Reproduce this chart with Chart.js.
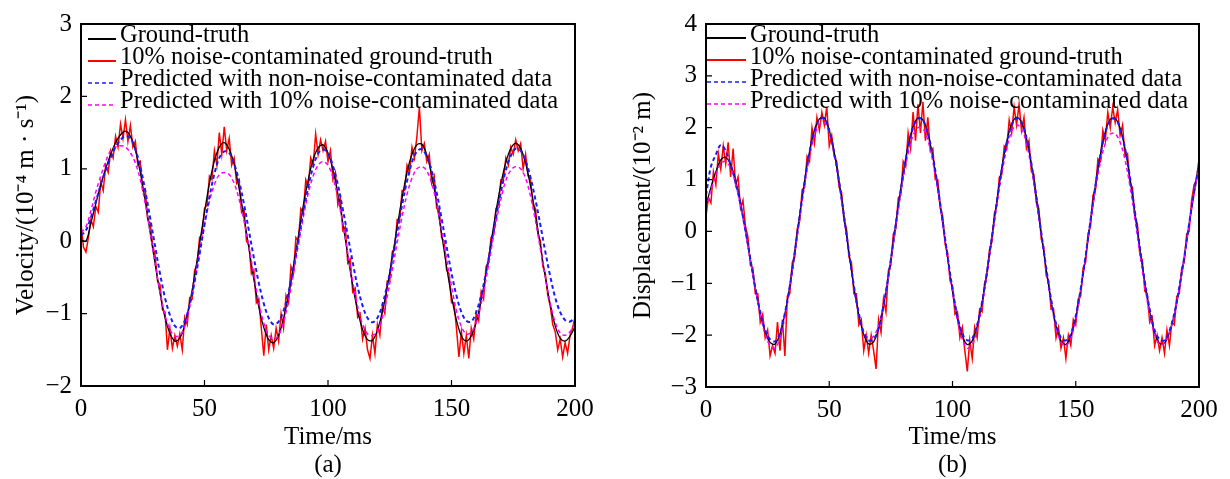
<!DOCTYPE html>
<html>
<head>
<meta charset="utf-8">
<script src="https://cdn.jsdelivr.net/npm/chart.js@4.4.1/dist/chart.umd.min.js"></script>
<style>
  html, body { margin: 0; padding: 0; background: #fff; overflow: hidden; }
  .panel { position: absolute; top: 0; width: 615px; height: 479px; }
</style>
</head>
<body>
<div class="panel" style="left:0"><canvas id="canvas_a" width="615" height="479"></canvas></div>
<div class="panel" style="left:615px"><canvas id="canvas_b" width="615" height="479"></canvas></div>
<script>
// sample times (ms)
const time_2ms = [0,2,4,6,8,10,12,14,16,18,20,22,24,26,28,30,32,34,36,38,40,42,44,46,48,50,52,54,56,58,60,62,64,66,68,70,72,74,76,78,80,82,84,86,88,90,92,94,96,98,100,102,104,106,108,110,112,114,116,118,120,122,124,126,128,130,132,134,136,138,140,142,144,146,148,150,152,154,156,158,160,162,164,166,168,170,172,174,176,178,180,182,184,186,188,190,192,194,196,198,200]
const time_1ms = [0,1,2,3,4,5,6,7,8,9,10,11,12,13,14,15,16,17,18,19,20,21,22,23,24,25,26,27,28,29,30,31,32,33,34,35,36,37,38,39,40,41,42,43,44,45,46,47,48,49,50,51,52,53,54,55,56,57,58,59,60,61,62,63,64,65,66,67,68,69,70,71,72,73,74,75,76,77,78,79,80,81,82,83,84,85,86,87,88,89,90,91,92,93,94,95,96,97,98,99,100,101,102,103,104,105,106,107,108,109,110,111,112,113,114,115,116,117,118,119,120,121,122,123,124,125,126,127,128,129,130,131,132,133,134,135,136,137,138,139,140,141,142,143,144,145,146,147,148,149,150,151,152,153,154,155,156,157,158,159,160,161,162,163,164,165,166,167,168,169,170,171,172,173,174,175,176,177,178,179,180,181,182,183,184,185,186,187,188,189,190,191,192,193,194,195,196,197,198,199,200]

const x_ticks = [0, 50, 100, 150, 200]
const y_ticks_a = [-2, -1, 0, 1, 2, 3]
const y_ticks_b = [-3, -2, -1, 0, 1, 2, 3, 4]

const series_names = [
    'Ground-truth',
    '10% noise-contaminated ground-truth',
    'Predicted with non-noise-contaminated data',
    'Predicted with 10% noise-contaminated data'
]

// (a) velocity, 10^-4 m/s
const truth_a = [0.02,0.0,0.25,0.52,0.78,1.0,1.2,1.36,1.47,1.52,1.45,1.26,0.95,0.56,0.12,-0.31,-0.72,-1.05,-1.27,-1.38,-1.34,-1.16,-0.86,-0.48,-0.04,0.40,0.80,1.11,1.30,1.36,1.27,1.06,0.73,0.33,-0.10,-0.53,-0.91,-1.19,-1.36,-1.40,-1.30,-1.07,-0.75,-0.35,0.07,0.49,0.85,1.13,1.29,1.33,1.22,0.99,0.65,0.25,-0.19,-0.61,-0.96,-1.22,-1.36,-1.37,-1.23,-0.98,-0.63,-0.23,0.20,0.60,0.95,1.20,1.33,1.34,1.19,0.91,0.53,0.10,-0.35,-0.76,-1.09,-1.31,-1.38,-1.31,-1.12,-0.82,-0.44,-0.02,0.41,0.79,1.09,1.28,1.35,1.28,1.08,0.76,0.36,-0.07,-0.50,-0.88,-1.17,-1.34,-1.38,-1.31,-1.18]
const noisy_a = [
    0.25,-0.08,-0.15,0.05,0.3,0.2,0.48,0.4,0.82,0.7,
    1.05,0.95,1.25,1.15,1.45,1.3,1.62,1.42,1.68,1.38,
    1.6,1.3,1.38,1.05,1.1,0.7,0.72,0.3,0.25,-0.05,
    -0.2,-0.55,-0.6,-0.95,-0.98,-1.5,-1.2,-1.48,-1.3,-1.45,
    -1.28,-1.5,-1.05,-1.15,-0.78,-0.8,-0.4,-0.32,0.05,0.1,
    0.45,0.5,0.9,0.85,1.25,1.05,1.5,1.2,1.58,1.25,
    1.42,1.05,1.15,0.8,0.85,0.4,0.45,0.0,-0.05,-0.45,
    -0.4,-0.85,-0.8,-1.2,-1.58,-1.15,-1.5,-1.3,-1.48,-1.2,
    -1.38,-1.0,-1.2,-0.75,-0.85,-0.35,-0.45,0.05,0.0,0.45,
    0.4,0.85,0.75,1.15,1.05,1.48,1.2,1.4,1.25,1.38,
    1.1,1.25,0.85,0.95,0.5,0.6,0.15,0.2,-0.3,-0.25,
    -0.7,-0.65,-1.05,-1.0,-1.35,-1.2,-1.5,-1.62,-1.3,-1.55,
    -1.15,-1.3,-0.9,-1.0,-0.55,-0.55,-0.15,-0.1,0.3,0.3,
    0.7,0.7,1.05,0.95,1.3,1.15,1.45,1.85,1.25,1.35,
    1.1,1.2,0.8,0.9,0.45,0.45,0.05,0.0,-0.4,-0.45,
    -0.85,-0.85,-1.2,-1.6,-1.25,-1.55,-1.3,-1.62,-1.2,-1.35,
    -1.0,-1.1,-0.7,-0.8,-0.35,-0.3,0.05,0.1,0.45,0.5,
    0.85,0.85,1.15,1.05,1.3,1.2,1.4,1.25,1.35,1.0,
    1.2,0.9,0.85,0.5,0.45,0.1,0.0,-0.35,-0.45,-0.75,
    -0.9,-1.15,-1.25,-1.5,-1.35,-1.6,-1.4,-1.55,-1.3,-1.2,
    -1.05]
const pred_clean_a = [0.08,0.15,0.33,0.55,0.78,0.98,1.15,1.30,1.40,1.45,1.42,1.27,1.03,0.70,0.32,-0.07,-0.45,-0.78,-1.02,-1.17,-1.20,-1.10,-0.88,-0.56,-0.18,0.23,0.61,0.93,1.15,1.24,1.22,1.07,0.83,0.51,0.14,-0.23,-0.58,-0.86,-1.06,-1.15,-1.11,-0.96,-0.71,-0.37,0.01,0.40,0.75,1.03,1.21,1.27,1.21,1.04,0.78,0.44,0.08,-0.29,-0.63,-0.89,-1.06,-1.12,-1.06,-0.88,-0.60,-0.26,0.12,0.50,0.83,1.09,1.24,1.27,1.17,0.97,0.67,0.31,-0.07,-0.44,-0.75,-0.98,-1.10,-1.11,-0.98,-0.75,-0.43,-0.06,0.32,0.68,0.98,1.18,1.28,1.25,1.11,0.88,0.57,0.22,-0.15,-0.49,-0.78,-0.98,-1.09,-1.11,-1.05]
const pred_noisy_a = [0.12,0.20,0.42,0.68,0.90,1.10,1.25,1.30,1.32,1.30,1.22,1.08,0.85,0.52,0.12,-0.30,-0.70,-1.02,-1.22,-1.31,-1.30,-1.18,-0.90,-0.55,-0.15,0.23,0.55,0.78,0.92,0.95,0.92,0.80,0.58,0.28,-0.08,-0.47,-0.85,-1.13,-1.30,-1.35,-1.30,-1.12,-0.82,-0.45,-0.05,0.33,0.66,0.90,1.05,1.10,1.05,0.88,0.60,0.24,-0.16,-0.56,-0.90,-1.15,-1.28,-1.30,-1.24,-1.05,-0.76,-0.40,-0.02,0.34,0.65,0.87,1.00,1.03,0.97,0.80,0.52,0.16,-0.24,-0.62,-0.96,-1.18,-1.28,-1.26,-1.12,-0.86,-0.52,-0.13,0.25,0.58,0.84,0.98,1.03,1.00,0.87,0.62,0.28,-0.11,-0.50,-0.86,-1.12,-1.27,-1.30,-1.25,-1.12]

// (b) displacement, 10^-2 m
const truth_b = [0.50,0.85,1.15,1.38,1.43,1.29,0.99,0.55,0.02,-0.55,-1.10,-1.58,-1.94,-2.14,-2.17,-1.98,-1.59,-1.05,-0.39,0.31,0.97,1.54,1.95,2.17,2.19,1.95,1.53,0.96,0.29,-0.41,-1.07,-1.61,-1.99,-2.17,-2.13,-1.88,-1.44,-0.86,-0.20,0.49,1.12,1.65,2.02,2.19,2.15,1.89,1.44,0.86,0.19,-0.50,-1.14,-1.67,-2.02,-2.18,-2.11,-1.83,-1.37,-0.77,-0.10,0.59,1.22,1.73,2.07,2.20,2.11,1.80,1.30,0.67,-0.03,-0.72,-1.34,-1.82,-2.11,-2.18,-2.02,-1.66,-1.12,-0.48,0.22,0.90,1.48,1.92,2.16,2.18,1.99,1.59,1.03,0.37,-0.32,-0.98,-1.54,-1.95,-2.16,-2.15,-1.95,-1.60,-1.10,-0.50,0.15,0.75,1.30]
const noisy_b = [
    0.3,0.65,0.55,1.15,0.9,1.5,1.2,1.65,1.3,1.72,
    1.05,1.6,0.9,1.05,0.45,0.6,0.1,-0.1,-0.65,-0.7,
    -1.2,-1.2,-1.75,-1.6,-2.05,-1.9,-2.4,-2.2,-2.35,-1.75,
    -2.3,-1.7,-2.4,-1.25,-1.2,-0.6,-0.5,0.05,0.2,0.8,
    0.85,1.45,1.35,2.0,1.7,2.2,1.95,2.3,2.05,2.4,
    1.65,1.85,1.45,1.35,0.85,0.75,0.2,0.05,-0.5,-0.6,
    -1.2,-1.2,-1.8,-1.7,-2.3,-2.0,-2.35,-2.0,-2.3,-2.65,
    -1.7,-1.95,-1.3,-1.55,-0.75,-0.65,-0.05,0.05,0.65,0.7,
    1.35,1.25,1.9,1.6,2.3,1.75,2.45,1.9,2.5,1.75,
    2.2,1.55,1.6,1.0,1.0,0.45,0.3,-0.25,-0.4,-0.95,
    -1.05,-1.6,-1.55,-2.05,-1.85,-2.3,-2.7,-2.1,-2.45,-1.85,
    -2.05,-1.5,-1.55,-1.0,-0.85,-0.35,-0.2,0.35,0.5,1.05,
    1.1,1.65,1.6,2.15,1.9,2.4,2.05,2.45,1.95,2.2,
    1.6,1.75,1.15,1.1,0.55,0.45,-0.15,-0.3,-0.85,-0.95,
    -1.5,-1.5,-2.05,-1.85,-2.25,-2.05,-2.45,-2.0,-2.2,-1.7,
    -1.8,-1.3,-1.25,-0.7,-0.6,-0.05,0.1,0.7,0.8,1.4,
    1.35,1.95,1.75,2.3,2.0,2.4,2.1,2.35,1.85,2.05,
    1.45,1.5,0.9,0.85,0.25,0.15,-0.45,-0.55,-1.15,-1.2,
    -1.75,-1.65,-2.2,-2.0,-2.3,-2.05,-2.35,-1.9,-2.2,-1.75,
    -1.8,-1.25,-1.2,-0.7,-0.6,-0.05,0.0,0.6,0.9,1.0,
    1.4]
const pred_clean_b = [0.70,1.25,1.48,1.67,1.55,1.28,0.95,0.52,0.02,-0.53,-1.08,-1.55,-1.90,-2.08,-2.12,-1.96,-1.58,-1.05,-0.40,0.30,0.96,1.53,1.94,2.16,2.18,1.95,1.53,0.97,0.30,-0.40,-1.05,-1.58,-1.95,-2.10,-2.08,-1.86,-1.43,-0.86,-0.20,0.48,1.10,1.63,2.00,2.18,2.15,1.89,1.45,0.87,0.20,-0.48,-1.11,-1.63,-1.97,-2.10,-2.06,-1.80,-1.36,-0.77,-0.10,0.58,1.20,1.71,2.05,2.18,2.10,1.80,1.31,0.68,-0.02,-0.70,-1.31,-1.78,-2.05,-2.10,-1.98,-1.63,-1.11,-0.48,0.22,0.89,1.47,1.90,2.14,2.17,1.99,1.60,1.04,0.38,-0.31,-0.96,-1.50,-1.90,-2.08,-2.10,-1.92,-1.58,-1.08,-0.50,0.15,0.75,1.30]
const pred_noisy_b = [0.45,0.80,1.10,1.30,1.35,1.22,0.92,0.50,0.00,-0.55,-1.10,-1.60,-1.98,-2.20,-2.25,-2.05,-1.65,-1.10,-0.43,0.25,0.90,1.45,1.85,2.06,2.10,1.90,1.48,0.92,0.26,-0.43,-1.08,-1.60,-1.94,-2.05,-2.02,-1.82,-1.42,-0.88,-0.24,0.42,1.02,1.50,1.85,2.00,1.98,1.76,1.35,0.80,0.14,-0.55,-1.18,-1.72,-2.08,-2.25,-2.18,-1.90,-1.43,-0.82,-0.14,0.52,1.12,1.60,1.93,2.05,1.98,1.70,1.22,0.60,-0.08,-0.76,-1.38,-1.85,-2.13,-2.20,-2.06,-1.70,-1.16,-0.52,0.16,0.80,1.33,1.70,1.88,1.88,1.72,1.38,0.87,0.25,-0.42,-1.05,-1.60,-1.98,-2.18,-2.15,-1.95,-1.60,-1.10,-0.52,0.12,0.72,1.25]

const FONT = "'Liberation Serif', 'Times New Roman', serif"

function toPoints(xs, ys) {
    return ys.map((y, i) => ({x: xs[i], y: y}))
}

function minusLabel(v) {
    return v < 0 ? '\u2212' + Math.abs(v) : String(v)
}

// box round the plot area and short inward ticks
const framePlugin = {
    id: 'frame',
    afterDatasetsDraw(chart) {
        const ctx = chart.ctx
        const a = chart.chartArea
        const sx = chart.scales.x
        const sy = chart.scales.y
        ctx.save()
        ctx.strokeStyle = '#000'
        ctx.lineWidth = 1.2
        ctx.beginPath()
        sx.ticks.forEach(t => {
            const px = sx.getPixelForValue(t.value)
            ctx.moveTo(px, a.bottom)
            ctx.lineTo(px, a.bottom - 6)
        })
        sy.ticks.forEach(t => {
            const py = sy.getPixelForValue(t.value)
            ctx.moveTo(a.left, py)
            ctx.lineTo(a.left + 6, py)
        })
        ctx.stroke()
        ctx.lineWidth = 2
        ctx.strokeRect(a.left, a.top, a.right - a.left, a.bottom - a.top)
        ctx.restore()
    }
}

// legend written inside the plot, top left, like the figure
const innerLegend = {
    id: 'innerLegend',
    afterDatasetsDraw(chart, args, opts) {
        const ctx = chart.ctx
        const a = chart.chartArea
        ctx.save()
        ctx.font = opts.fontSize + 'px ' + FONT
        ctx.textBaseline = 'alphabetic'
        ctx.textAlign = 'left'
        chart.data.datasets.forEach((ds, i) => {
            const base = a.top + opts.firstBase + i * opts.gap
            const ly = base - opts.lineLift
            ctx.strokeStyle = ds.borderColor
            ctx.lineWidth = ds.legendWidth
            ctx.setLineDash(ds.borderDash || [])
            ctx.beginPath()
            ctx.moveTo(a.left + opts.lineStart, ly)
            ctx.lineTo(a.left + opts.lineEnd, ly)
            ctx.stroke()
            ctx.setLineDash([])
            ctx.fillStyle = '#000'
            ctx.fillText(ds.label, a.left + opts.textStart, base)
        })
        ctx.restore()
    }
}

function drawPanel(canvasId, cfg) {
    const ctx = document.getElementById(canvasId).getContext('2d')
    return new Chart(ctx, {
        type: 'line',
        data: {
            datasets: [
                { label: series_names[0], data: toPoints(time_2ms, cfg.truth), borderColor: '#000000',
                  borderWidth: 1.3, legendWidth: 2, tension: 0.35, order: 3 },
                { label: series_names[1], data: toPoints(time_1ms, cfg.noisy), borderColor: '#ff0000',
                  borderWidth: 1.5, legendWidth: 2, tension: 0, order: 4 },
                { label: series_names[2], data: toPoints(time_2ms, cfg.clean), borderColor: '#1a1aff',
                  borderWidth: 2, legendWidth: 1.5, borderDash: [4, 3], tension: 0.35, order: 1 },
                { label: series_names[3], data: toPoints(time_2ms, cfg.pnoisy), borderColor: '#ff00ff',
                  borderWidth: 1.5, legendWidth: 1.5, borderDash: [4, 3], tension: 0.35, order: 2 }
            ]
        },
        options: {
            responsive: false,
            animation: false,
            devicePixelRatio: 1,
            elements: { point: { radius: 0 } },
            layout: { padding: { top: 17, right: cfg.padRight, left: 0, bottom: 0 } },
            plugins: {
                legend: { display: false },
                tooltip: { enabled: false },
                innerLegend: cfg.legend
            },
            scales: {
                x: {
                    type: 'linear',
                    min: 0, max: 200,
                    afterBuildTicks: s => { s.ticks = x_ticks.map(v => ({value: v})) },
                    grid: { display: false, drawTicks: false },
                    border: { display: false },
                    ticks: { color: '#000', padding: 8, font: { family: FONT, size: 25, lineHeight: 1.2 },
                             callback: minusLabel, maxRotation: 0 },
                    title: { display: true, text: ['Time/ms', cfg.caption], color: '#000',
                             font: { family: FONT, size: 25, lineHeight: 1.12 }, padding: 0 },
                    afterFit: s => { s.height = cfg.xHeight }
                },
                y: {
                    type: 'linear',
                    min: cfg.yTicks[0], max: cfg.yTicks[cfg.yTicks.length - 1],
                    afterBuildTicks: s => { s.ticks = cfg.yTicks.map(v => ({value: v})) },
                    grid: { display: false, drawTicks: false },
                    border: { display: false },
                    ticks: { color: '#000', padding: 9, font: { family: FONT, size: 25 }, callback: minusLabel },
                    title: { display: true, text: cfg.yTitle, color: '#000',
                             font: { family: FONT, size: 25, lineHeight: 1.2 }, padding: { top: cfg.titlePad, bottom: 0 } },
                    afterFit: s => { s.width = cfg.yWidth }
                }
            }
        },
        plugins: [framePlugin, innerLegend]
    })
}

Chart.defaults.font.family = FONT

drawPanel('canvas_a', {
    truth: truth_a, noisy: noisy_a, clean: pred_clean_a, pnoisy: pred_noisy_a,
    yTicks: y_ticks_a,
    yTitle: 'Velocity/(10\u207B\u2074 m \u00B7 s\u207B\u00B9)',
    caption: '(a)',
    yWidth: 81, xHeight: 93, padRight: 40, titlePad: 11,
    legend: { fontSize: 24.5, firstBase: 18, gap: 22, lineLift: 3, lineStart: 7, lineEnd: 35, textStart: 39 }
})

drawPanel('canvas_b', {
    truth: truth_b, noisy: noisy_b, clean: pred_clean_b, pnoisy: pred_noisy_b,
    yTicks: y_ticks_b,
    yTitle: 'Displacement/(10\u207B\u00B2 m)',
    caption: '(b)',
    yWidth: 91, xHeight: 92, padRight: 31, titlePad: 13,
    legend: { fontSize: 24.5, firstBase: 18, gap: 22, lineLift: 4, lineStart: 1, lineEnd: 40, textStart: 44 }
})
</script>
</body>
</html>
